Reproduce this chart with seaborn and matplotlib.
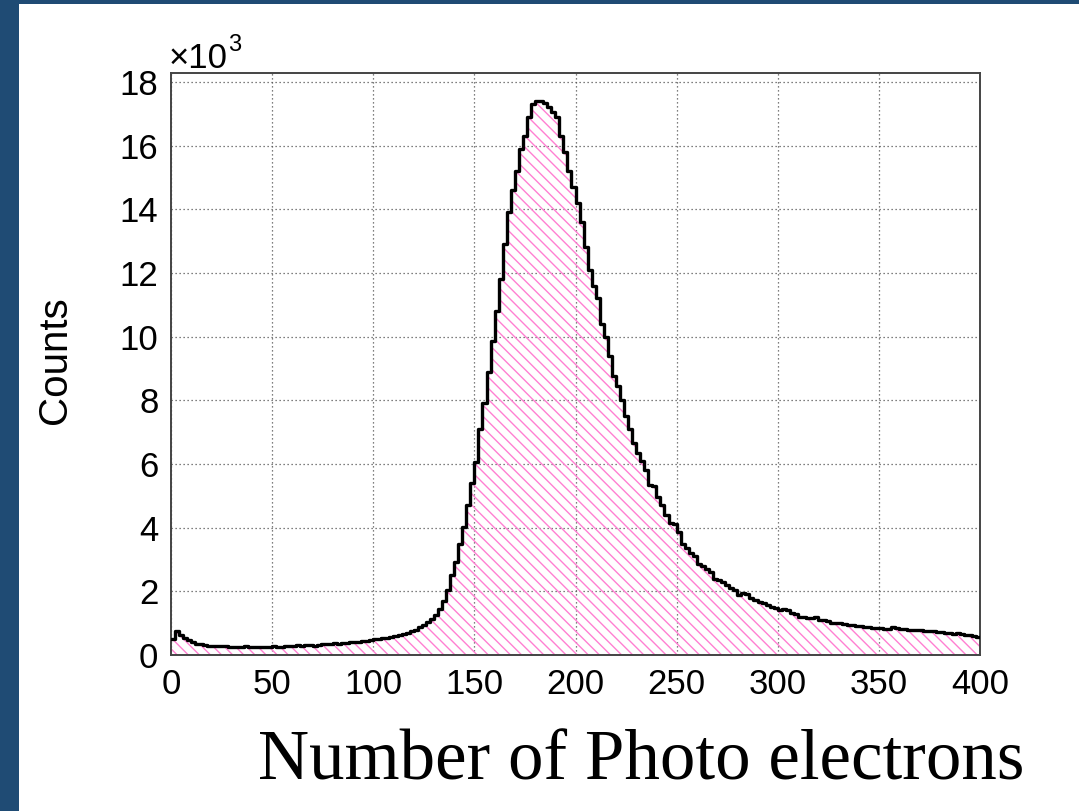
import numpy as np
import matplotlib
matplotlib.use("Agg")
import matplotlib.pyplot as plt
import seaborn as sns
from matplotlib.patches import Rectangle
from matplotlib.ticker import MultipleLocator

# ---- data (counts in units of 10^3, bin width 2 photo electrons) ----
bin_edges = list(range(0, 402, 2))
counts_k = [
    0.50, 0.76, 0.62, 0.53, 0.46, 0.40, 0.36, 0.33, 0.31, 0.29,
    0.27, 0.27, 0.29, 0.28, 0.26, 0.25, 0.25, 0.26, 0.27, 0.25,
    0.25, 0.25, 0.25, 0.25, 0.25, 0.27, 0.26, 0.26, 0.27, 0.27,
    0.27, 0.30, 0.29, 0.31, 0.30, 0.29, 0.32, 0.33, 0.34, 0.34,
    0.37, 0.36, 0.38, 0.38, 0.40, 0.41, 0.42, 0.43, 0.45, 0.47,
    0.49, 0.50, 0.52, 0.54, 0.57, 0.60, 0.62, 0.65, 0.70, 0.75,
    0.80, 0.87, 0.95, 1.03, 1.13, 1.27, 1.45, 1.70, 2.05, 2.50,
    2.93, 3.50, 4.03, 4.70, 5.40, 6.05, 7.10, 7.90, 8.90, 9.85,
    10.8, 11.8, 12.9, 13.9, 14.6, 15.2, 15.9, 16.3, 16.9, 17.3,
    17.4, 17.4, 17.35, 17.2, 17.05, 16.9, 16.3, 15.8, 15.2, 14.7,
    14.2, 13.6, 12.8, 12.1, 11.6, 11.2, 10.4, 10.0, 9.4, 8.75,
    8.45, 8.0, 7.5, 7.1, 6.65, 6.35, 6.1, 5.8, 5.35, 5.3,
    4.95, 4.7, 4.4, 4.15, 4.1, 3.85, 3.5, 3.35, 3.2, 3.1,
    2.85, 2.8, 2.7, 2.6, 2.4, 2.35, 2.3, 2.2, 2.1, 2.05,
    1.90, 1.95, 1.93, 1.80, 1.72, 1.68, 1.62, 1.58, 1.52, 1.47,
    1.40, 1.43, 1.40, 1.32, 1.28, 1.20, 1.18, 1.16, 1.15, 1.20,
    1.10, 1.09, 1.07, 1.02, 1.00, 0.99, 0.96, 0.95, 0.94, 0.91,
    0.90, 0.89, 0.88, 0.85, 0.84, 0.84, 0.83, 0.82, 0.87, 0.84,
    0.83, 0.82, 0.80, 0.79, 0.80, 0.77, 0.76, 0.75, 0.74, 0.72,
    0.71, 0.70, 0.69, 0.66, 0.68, 0.65, 0.63, 0.62, 0.60, 0.58,
]
bin_centers = [(a + b) / 2 for a, b in zip(bin_edges[:-1], bin_edges[1:])]
x_ticks = [0, 50, 100, 150, 200, 250, 300, 350, 400]
y_ticks = [0, 2, 4, 6, 8, 10, 12, 14, 16, 18]
x_label = "Number of Photo electrons"
y_label = "Counts"

sns.set_style("white")
plt.rcParams["font.family"] = ["Liberation Sans", "DejaVu Sans"]
plt.rcParams["hatch.linewidth"] = 1.0

W, H = 1079, 811
fig = plt.figure(figsize=(W / 100, H / 100), dpi=100, facecolor="#1f4b74")
fig.patches.append(Rectangle((19 / W, 0), 1, (H - 4) / H, transform=fig.transFigure,
                             facecolor="white", edgecolor="none", zorder=-10))

ax = fig.add_axes([171 / W, (H - 655) / H, (980 - 171) / W, (655 - 73) / H])
ax.set_facecolor("white")

df = {"pe": bin_centers, "w": counts_k}
pink = "#ff80d2"
sns.histplot(data=df, x="pe", weights="w", bins=bin_edges, element="step", fill=True,
             color=pink, facecolor="none", edgecolor=pink, linewidth=0, hatch="\\\\\\",
             alpha=1, ax=ax, zorder=2)
sns.histplot(data=df, x="pe", weights="w", bins=bin_edges, element="step", fill=False,
             color="black", linewidth=2.4, ax=ax, zorder=3)

ax.set_xlim(0, 400)
ax.set_ylim(0, 18.28)
ax.set_xticks(x_ticks)
ax.set_yticks(y_ticks)
ax.set_xticklabels([str(v) for v in x_ticks])
ax.set_yticklabels([str(v) for v in y_ticks])
ax.xaxis.set_minor_locator(MultipleLocator(10))
ax.yaxis.set_minor_locator(MultipleLocator(0.5))
ax.tick_params(axis="both", which="both", direction="in", colors="#333333", width=1.1,
               labelcolor="black", labelsize=25, top=False, right=False)
ax.tick_params(axis="y", which="major", length=18.5, pad=9)
ax.tick_params(axis="y", which="minor", length=9)
ax.tick_params(axis="x", which="major", length=12, pad=9)
ax.tick_params(axis="x", which="minor", length=6)

ax.grid(True, which="major", color="#555555", linestyle=(0, (1, 2.2)), linewidth=0.9)
ax.set_axisbelow(True)
for s in ax.spines.values():
    s.set_color("#444444")
    s.set_linewidth(1.4)

ax.set_xlabel("")
ax.set_ylabel("")
fig.text(55 / W, (H - 360) / H, y_label, rotation=90, ha="center", va="center",
         fontsize=29, color="black")
fig.text(169 / W, (H - 68) / H, "\u00d710", ha="left", va="baseline", fontsize=25,
         color="black")
fig.text(228 / W, (H - 51) / H, "3", ha="left", va="baseline", fontsize=17, color="black")
fig.text(258 / W, (H - 779) / H, x_label, ha="left", va="baseline", fontsize=51,
         family=["Liberation Serif", "DejaVu Serif"], color="black")

fig.savefig("out.png", dpi=100, facecolor=fig.get_facecolor())
